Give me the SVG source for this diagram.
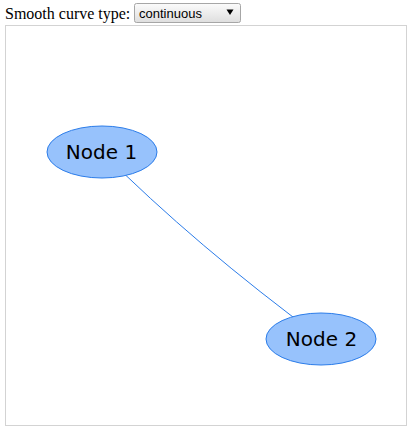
<svg xmlns="http://www.w3.org/2000/svg" width="411" height="430" viewBox="0 0 411 430">
<style>
.node ellipse{fill:#97C2FC;stroke:#2B7CE9;stroke-width:1}
.node text{font-family:"DejaVu Sans",Verdana,sans-serif;font-size:20px;fill:#000;text-anchor:middle}
.edge{fill:none;stroke:#2B7CE9;stroke-width:1}
</style>
<defs>
<linearGradient id="sel" x1="0" y1="0" x2="0" y2="1">
<stop offset="0" stop-color="#fbfbfb"/>
<stop offset="1" stop-color="#dedede"/>
</linearGradient>
</defs>
<rect width="411" height="430" fill="#fff"/>
<g id="header">
<text x="5" y="19" font-family="Liberation Serif,serif" font-size="16">Smooth curve type:</text>
<rect x="134.5" y="3.5" width="106" height="19" rx="2" fill="url(#sel)" stroke="#a6a6a6"/>
<text x="139" y="17.5" font-family="Liberation Sans,Arial,sans-serif" font-size="13">continuous</text>
<path d="M226.5,9.5 L233.5,9.5 L230,15 Z" fill="#000"/>
</g>
<rect id="frame" x="5.5" y="25.5" width="401" height="400" fill="none" stroke="#d3d3d3"/>
<g id="connectors">
<path class="edge" d="M102,152 Q195,245 321,338"/>
</g>
<g id="node1" class="node">
<ellipse cx="102" cy="152" rx="55" ry="26"/>
<text x="101.5" y="158.5">Node 1</text>
</g>
<g id="node2" class="node">
<ellipse cx="321" cy="339" rx="55" ry="26"/>
<text x="321.5" y="346">Node 2</text>
</g>
</svg>
